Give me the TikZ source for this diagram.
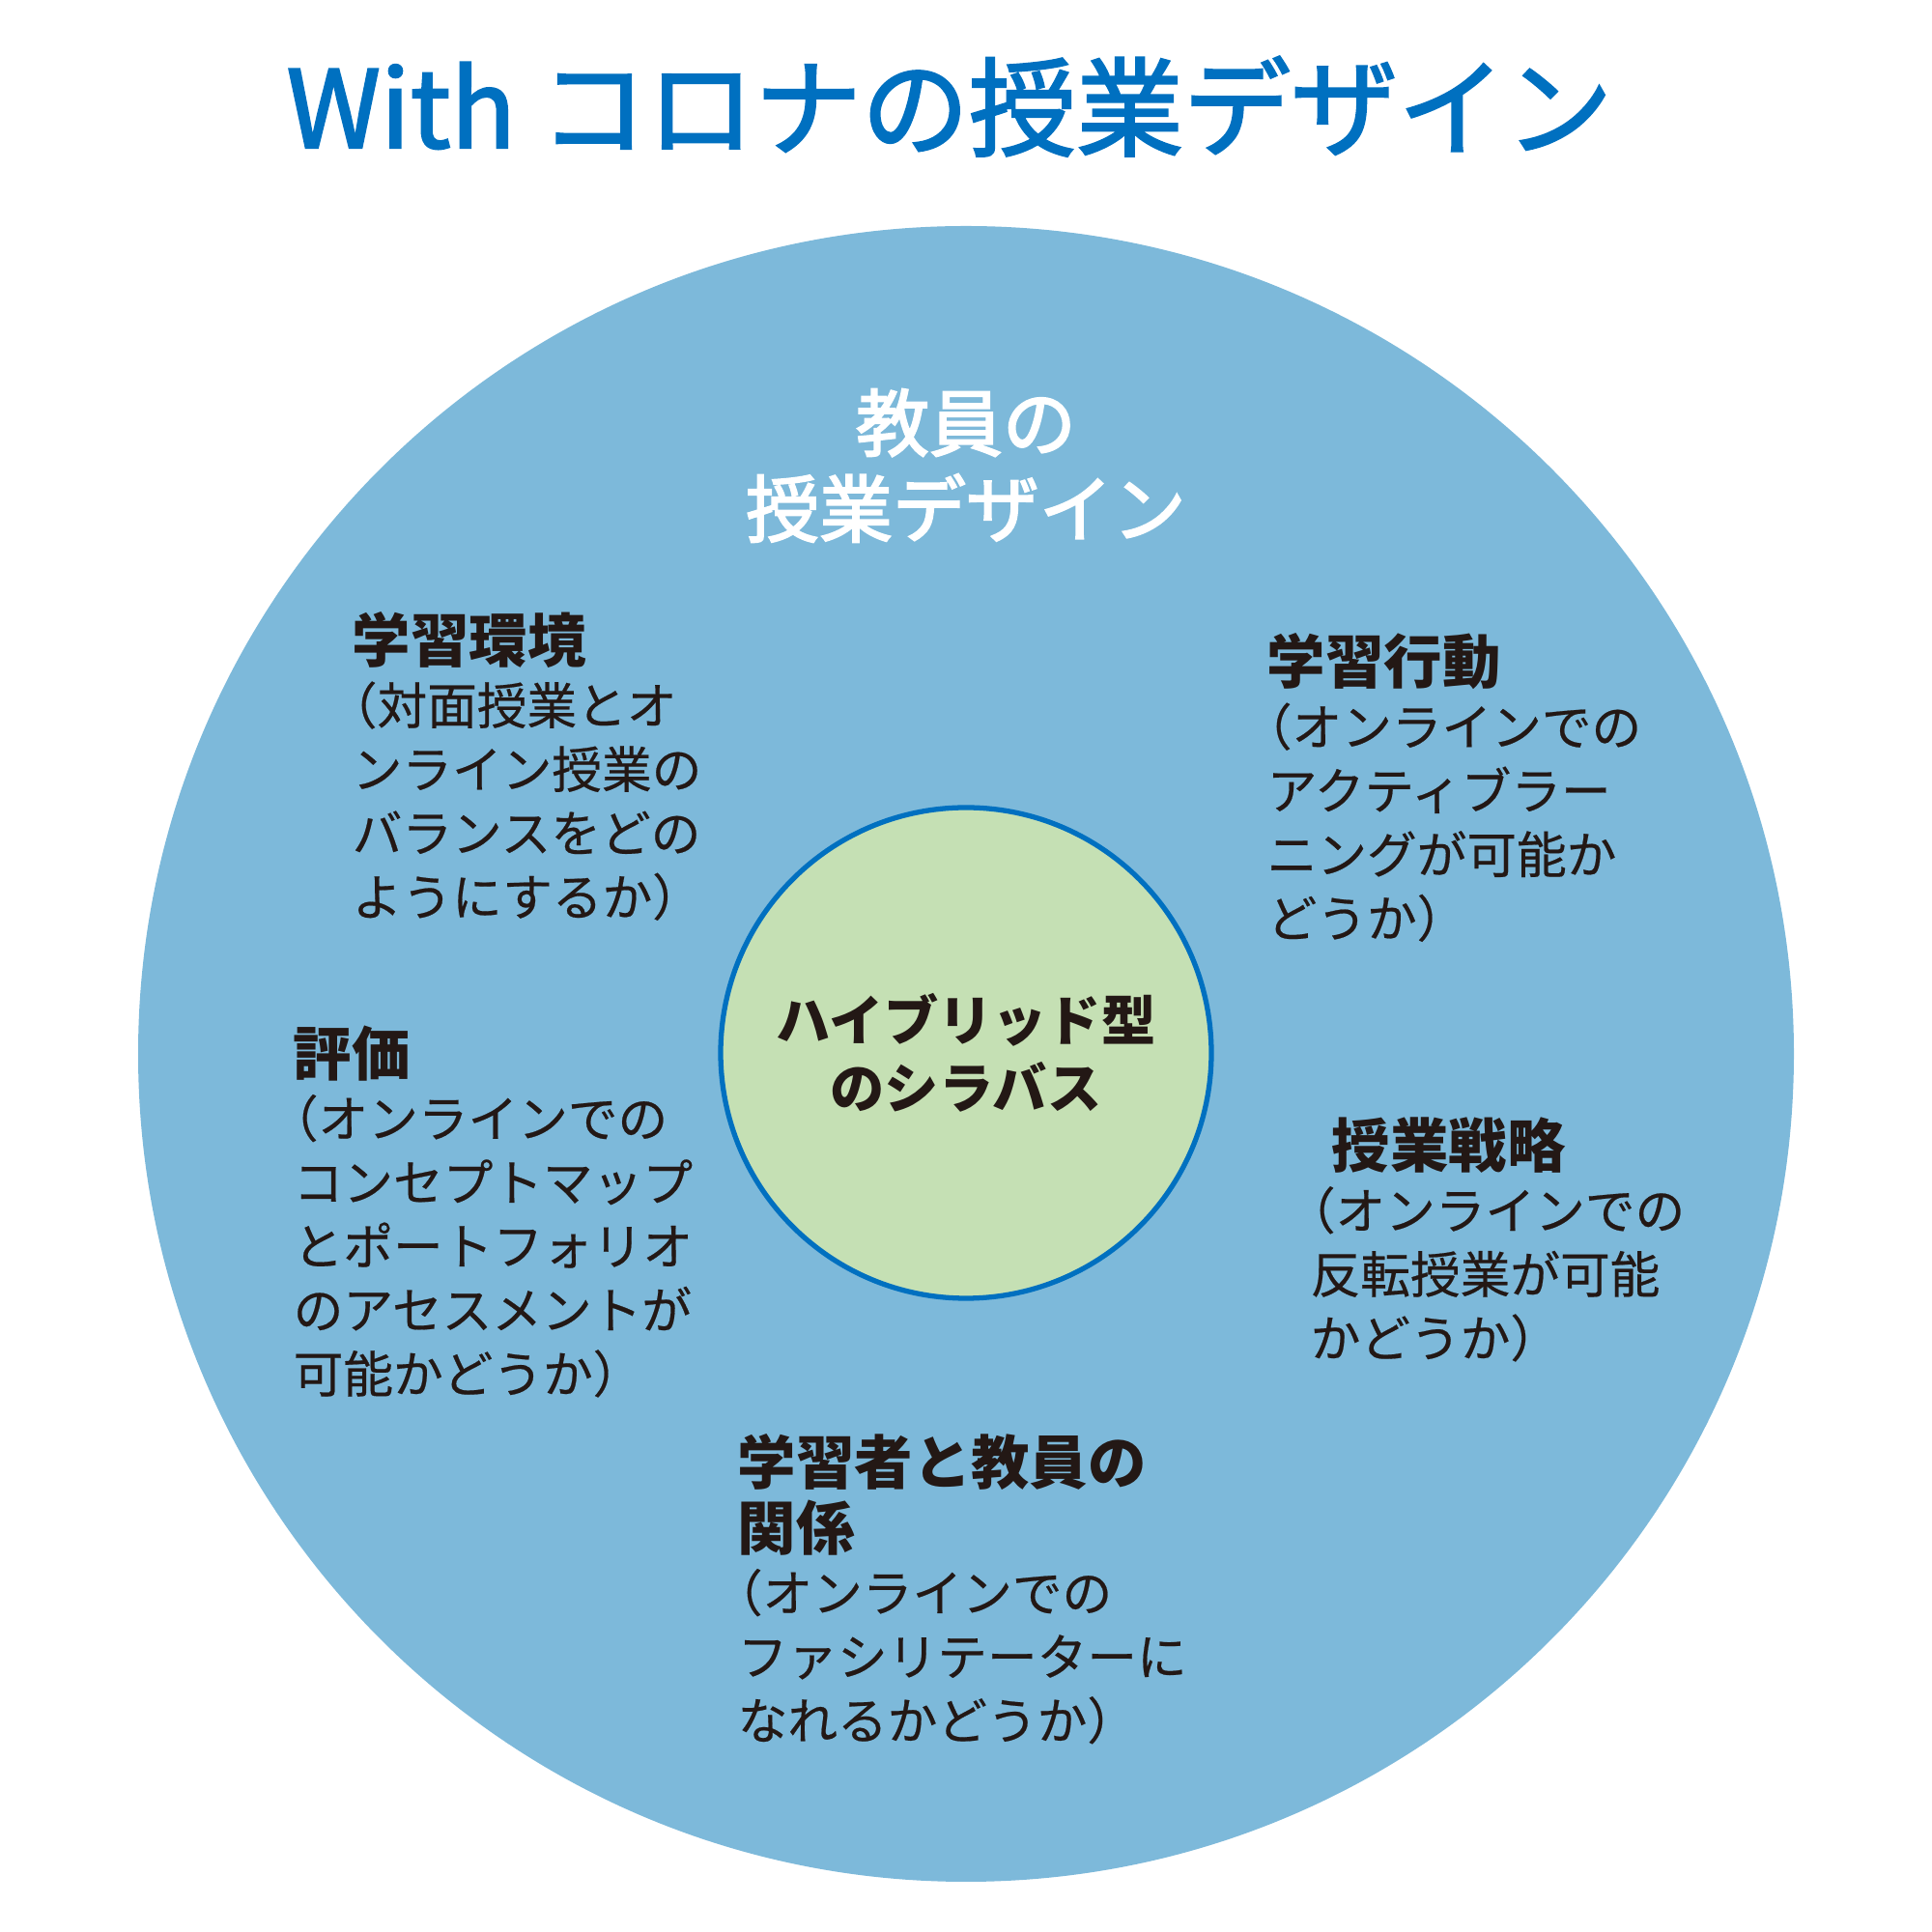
\documentclass[tikz,border=0pt]{standalone}
\usepackage{fontspec}
\setmainfont{Noto Sans CJK JP}
\newfontfamily\jpmid{Noto Sans CJK JP}[FakeBold=2]
\newfontfamily\jpwhite{Noto Sans CJK JP}[FakeBold=2.5]
\newfontfamily\jpbody{Noto Sans CJK JP}[CharacterWidth=AlternateHalf,FakeBold=0.4]
\usepackage{tikz}
\usetikzlibrary{positioning}
\definecolor{skyfill}{RGB}{125,185,218}
\definecolor{leaffill}{RGB}{197,224,180}
\definecolor{coreblue}{RGB}{0,112,192}
\definecolor{ink}{RGB}{35,24,21}

\begin{document}
\begin{tikzpicture}[
  head/.style={anchor=west,inner sep=0pt,align=left,text=ink,font=\bfseries\fontsize{17.2}{19.4}\selectfont},
  body/.style={anchor=north west,inner sep=0pt,align=left,text=ink,font=\jpbody\fontsize{14.7}{18.8}\selectfont},
  disc/.style={circle,inner sep=0pt}]
\useasboundingbox (0,0) rectangle (20,20);
\node[font=\jpmid\fontsize{31.6}{36}\selectfont,text=coreblue,anchor=base] (title) at (9.83,18.47) {With コロナの授業デザイン};
% circles
\node[disc,fill=skyfill,minimum size=17.14cm] (outer) at (10,9.09) {};
\node[disc,fill=leaffill,draw=coreblue,line width=1.5pt,minimum size=5.08cm,
  align=center,text=ink,font=\bfseries\fontsize{16}{19.9}\selectfont] (core) at (10,9.10) {ハイブリッド型\\のシラバス};
\node[text=white,align=center,font=\jpwhite\fontsize{21.6}{25.3}\selectfont] (teach) at (10,15.18) {教員の\\授業デザイン};
% five aspects
\node[head] (envh) at (3.64,13.37) {学習環境};
\node[body] (envb) at ([yshift=-1.2mm]envh.south west) {（対面授業とオ\\ンライン授業の\\バランスをどの\\ようにするか）};
\node[head] (acth) at (13.11,13.15) {学習行動};
\node[body] (actb) at ([yshift=-1.2mm]acth.south west) {（オンラインでの\\アクティブラー\\ニングが可能か\\どうか）};
\node[head] (evah) at (3.03,9.09) {評価};
\node[body] (evab) at ([yshift=-1.2mm]evah.south west) {（オンラインでの\\コンセプトマップ\\とポートフォリオ\\のアセスメントが\\可能かどうか）};
\node[head] (strh) at (13.78,8.14) {授業戦略};
\node[body] (strb) at ([xshift=-2.2mm,yshift=-1.2mm]strh.south west) {（オンラインでの\\反転授業が可能\\かどうか）};
\node[head,anchor=north west] (relh) at (7.63,5.16) {学習者と教員の\\関係};
\node[body] (relb) at ([yshift=-1.2mm]relh.south west) {（オンラインでの\\ファシリテーターに\\なれるかどうか）};
\end{tikzpicture}
\end{document}
